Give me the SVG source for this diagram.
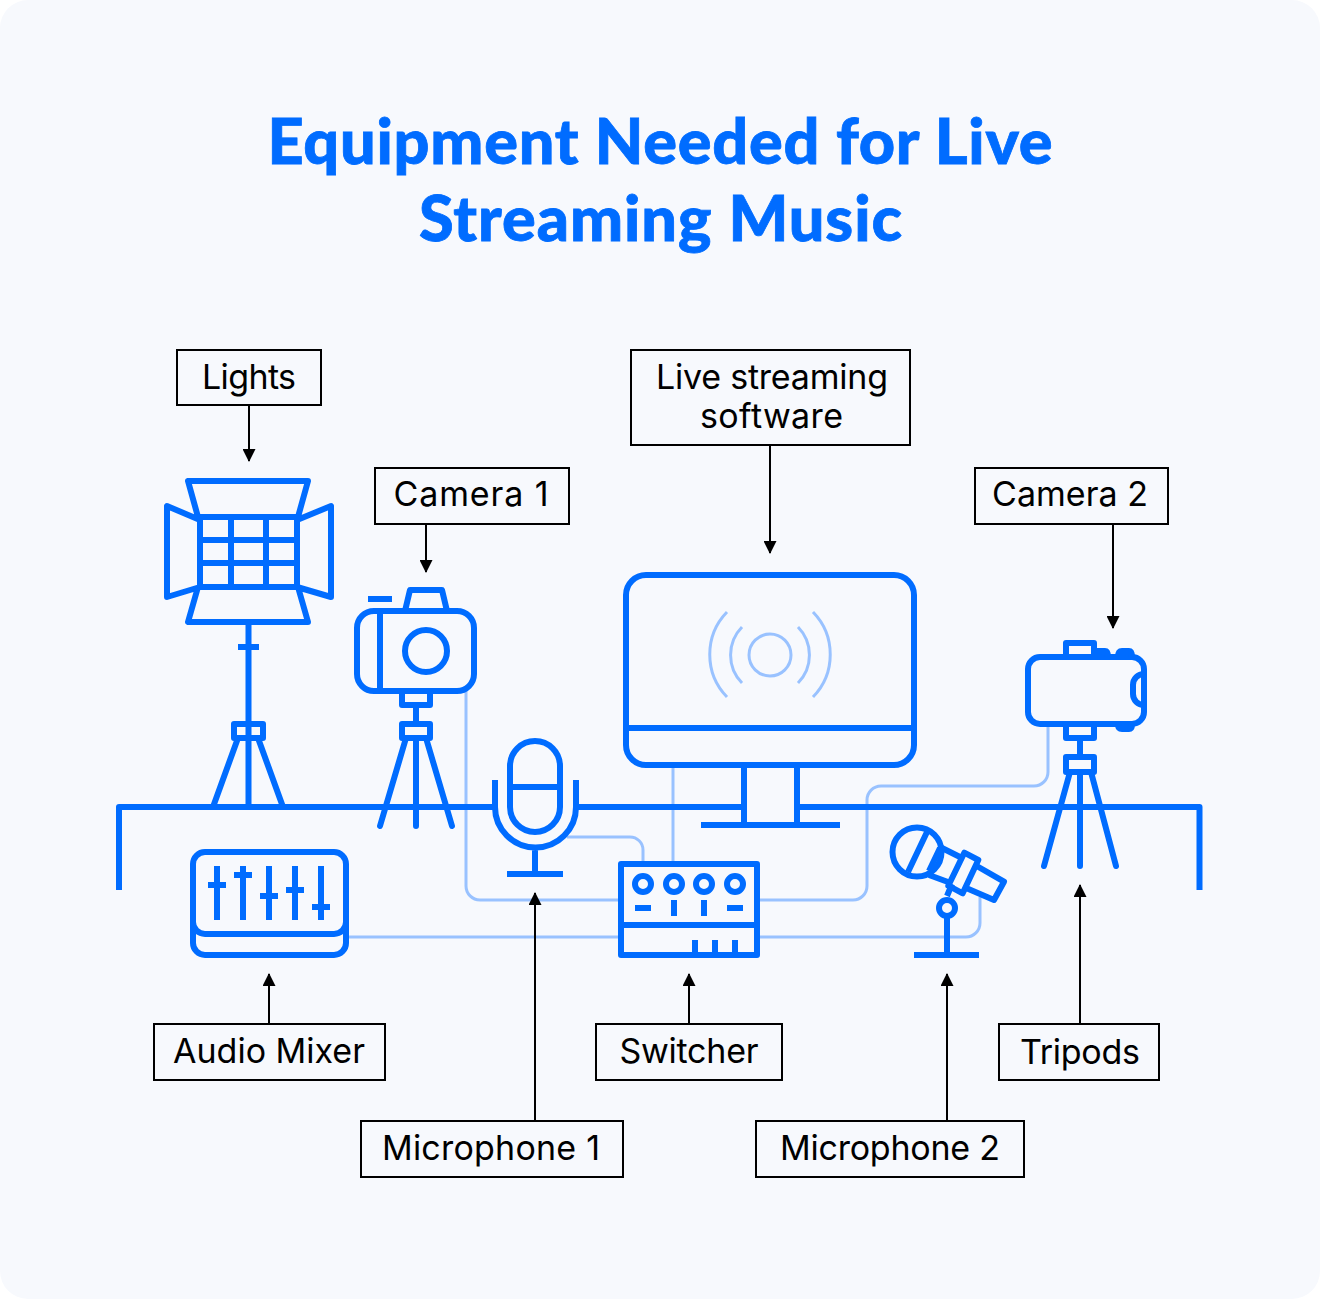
<svg xmlns="http://www.w3.org/2000/svg" width="1320" height="1299" viewBox="0 0 1320 1299">
<style>
.t{font-family:"Lato","Inter","Liberation Sans",sans-serif;fill:#006cff;stroke:#006cff;stroke-width:.8;font-weight:900;font-size:63px;text-anchor:middle}
.l{font-family:"Inter","Liberation Sans",sans-serif;fill:#000;font-size:34px;text-anchor:middle}
.b{fill:none;stroke:#000;stroke-width:2}
.a{fill:none;stroke:#000;stroke-width:2;marker-end:url(#ah)}
.i{fill:none;stroke:#006cff;stroke-width:6;stroke-linejoin:round}
.r{stroke-linecap:round}
.w{fill:none;stroke:#99c2ff;stroke-width:3}
</style>
<defs><marker id="ah" markerUnits="userSpaceOnUse" markerWidth="13" markerHeight="13" refX="12" refY="6.500" orient="auto" viewBox="0 0 13 13"><path d="M0 0L13 6.500L0 13Z" fill="#000"/></marker></defs>
<rect width="1320" height="1299" rx="28" fill="#f7f9fd"/>
<g id="title"><text class="t" x="660" y="164" textLength="785">Equipment Needed for Live</text><text class="t" x="660.500" y="241" textLength="483">Streaming Music</text></g>
<g id="wires">
<path class="w" d="M466 691V886a14 14 0 0 0 14 14H621"/>
<path class="w" d="M567 837H630a13 13 0 0 1 13 13V864"/>
<path class="w" d="M673 765V864"/>
<path class="w" d="M757 900H853a14 14 0 0 0 14-14V800a14 14 0 0 1 14-14H1034a14 14 0 0 0 14-14V726"/>
<path class="w" d="M346 937H621M757 937H966a14 14 0 0 0 14-14V897"/>
</g>
<g id="table"><path class="i" d="M119 890V807H493M578 807H744M797 807H1199.500V890"/></g>
<g id="node-lights"><g class="i">
<path d="M198 517L188 481H308L298 517M200 520L167 506V597L200 587M297 520L331 506V597L297 587M198 587L188 622H308L298 587"/>
<rect x="200" y="517" width="97" height="70"/><path d="M231 517V587M266 517V587M200 540H297M200 563H297M248.500 622V807M238 647H259M213 807L238 738M283 807L258 738"/><rect x="234" y="724" width="29" height="14"/></g></g>
<g id="node-camera-1"><g class="i">
<rect x="357" y="611" width="117" height="80" rx="17"/><circle cx="426" cy="651" r="21"/><path d="M380 611V691M368 599H392M405 611L410 590H442L447 611M416 705V724"/><rect x="402" y="691" width="28" height="14"/><rect x="402" y="724" width="28" height="14"/><path class="r" d="M406 738L380 826M416 738V826M426 738L452 826"/></g></g>
<g id="node-monitor"><g class="i"><rect x="626" y="575" width="288" height="190" rx="20"/><path d="M626 728H914M744 765V825M797 765V825M701 825H840"/></g>
<g class="w"><circle cx="770" cy="655" r="21"/><path d="M742 627A40 40 0 0 0 742 683M798 627A40 40 0 0 1 798 683M727 612A61 61 0 0 0 727 697M813 612A61 61 0 0 1 813 697"/></g></g>
<g id="node-camera-2"><g class="i">
<rect x="1028" y="657" width="116" height="67" rx="12"/><path d="M1066 657V643H1094V657M1094 651H1105Q1108 651 1108 657M1118 657Q1118 651 1122 651H1129Q1132 651 1132 657M1118 724Q1118 729 1122 729H1129Q1132 729 1132 724M1144 674A11 11 0 0 0 1133 685V694A11 11 0 0 0 1144 705M1080 738V757"/><path d="M1066 724V738H1094V724"/><rect x="1066" y="757" width="28" height="15"/><path class="r" d="M1070 772L1044 866M1080 772V866M1091 772L1116 866"/></g></g>
<g id="node-mixer"><g class="i"><rect x="193" y="852" width="153" height="103" rx="12"/><path d="M193 922a12 12 0 0 0 12 12H334a12 12 0 0 0 12-12M217 866V920M243 866V920M269 866V920M295 866V920M321 866V920M208 885H226M234 875H252M260 896H278M286 890H304M312 907H330"/></g></g>
<g id="node-microphone-1"><g class="i"><rect x="510" y="741" width="50" height="91" rx="25"/><path d="M510 787H560M495 780V807a40.500 40.500 0 0 0 81 0V780M535 847V874M507 874H563"/></g></g>
<g id="node-switcher"><g class="i"><rect x="621" y="864" width="136" height="91"/><path d="M621 925H757M635 908H651M674 900V916M704 900V916M727 908H743M695 940V955M715 940V955M735 940V955"/><circle cx="643" cy="884" r="8"/><circle cx="674" cy="884" r="8"/><circle cx="704" cy="884" r="8"/><circle cx="735" cy="884" r="8"/></g></g>
<g id="node-microphone-2"><g class="i"><circle cx="917" cy="852" r="24.500"/><path d="M927 832L908 872M940 847L960 857M929 875L948 882M940 848L929 871M976.700 866L1004 881.700L994 900L966.700 888.300M952 884L947 896M947 916V956M914 955H979"/><path d="M964.300 852.700L978.300 860L962.700 893.300L948.300 885.700Z"/><circle cx="947" cy="908" r="8"/></g></g>
<g id="labels">
<g id="label-lights"><rect class="b" x="177" y="350" width="144" height="55"/><text class="l" x="249" y="389" textLength="94">Lights</text></g>
<g id="label-camera-1"><rect class="b" x="375" y="468" width="194" height="56"/><text class="l" x="471" y="506" textLength="155">Camera 1</text></g>
<g id="label-software"><rect class="b" x="631" y="350" width="279" height="95"/><text class="l" x="772" y="389" textLength="232">Live streaming</text><text class="l" x="771.500" y="428" textLength="143">software</text></g>
<g id="label-camera-2"><rect class="b" x="975" y="468" width="193" height="56"/><text class="l" x="1070" y="506" textLength="156">Camera 2</text></g>
<g id="label-mixer"><rect class="b" x="154" y="1024" width="231" height="56"/><text class="l" x="269" y="1063" textLength="192">Audio Mixer</text></g>
<g id="label-switcher"><rect class="b" x="596" y="1024" width="186" height="56"/><text class="l" x="689" y="1063" textLength="139">Switcher</text></g>
<g id="label-tripods"><rect class="b" x="999" y="1024" width="160" height="56"/><text class="l" x="1080" y="1064" textLength="120">Tripods</text></g>
<g id="label-mic-1"><rect class="b" x="361" y="1121" width="262" height="56"/><text class="l" x="491" y="1160" textLength="218">Microphone 1</text></g>
<g id="label-mic-2"><rect class="b" x="756" y="1121" width="268" height="56"/><text class="l" x="890" y="1160" textLength="220">Microphone 2</text></g>
</g>
<g id="connectors">
<path class="a" d="M249 405V461"/><path class="a" d="M426 524V572"/><path class="a" d="M770 445V553"/><path class="a" d="M1113 524V628"/><path class="a" d="M269 1024V974"/><path class="a" d="M689 1024V974"/><path class="a" d="M535 1121V893"/><path class="a" d="M947 1121V974"/><path class="a" d="M1080 1024V885"/>
</g>
</svg>
